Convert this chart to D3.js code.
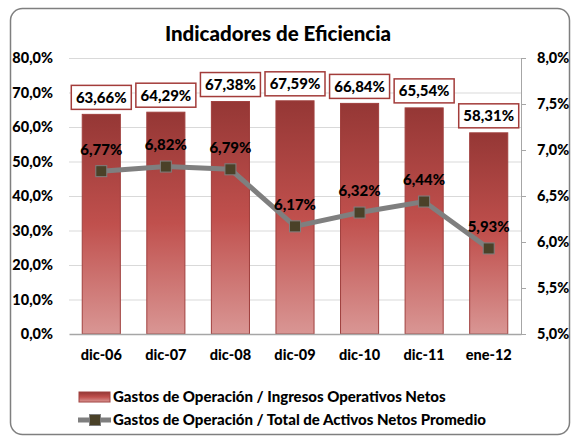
<!DOCTYPE html>
<html>
<head>
<meta charset="utf-8">
<script src="https://cdn.jsdelivr.net/npm/d3@7"></script>
<style>
  body { margin: 0; background: #fff; }
  svg text { font-family: Lato, "Open Sans", sans-serif; font-weight: 900; fill: #000; }
</style>
</head>
<body>
<svg id="chart" width="572" height="439"></svg>
<script>
var categories = ["dic-06", "dic-07", "dic-08", "dic-09", "dic-10", "dic-11", "ene-12"];
var gastosIngresos = [63.66, 64.29, 67.38, 67.59, 66.84, 65.54, 58.31];
var gastosActivos = [6.77, 6.82, 6.79, 6.17, 6.32, 6.44, 5.93];
var leftTicks = [0, 10, 20, 30, 40, 50, 60, 70, 80];
var rightTicks = [5.0, 5.5, 6.0, 6.5, 7.0, 7.5, 8.0];
var seriesNames = ["Gastos de Operación / Ingresos Operativos Netos",
                   "Gastos de Operación / Total de Activos Netos Promedio"];

var svg = d3.select("#chart");
var plot = {left: 69, right: 521, top: 58, bottom: 334};

function fmt(v, d) {
  return v.toFixed(d).replace(".", ",") + "%";
}

// gradient for the bars
var defs = svg.append("defs");
var grad = defs.append("linearGradient")
  .attr("id", "barGrad").attr("x1", 0).attr("y1", 0).attr("x2", 0).attr("y2", 1);
grad.append("stop").attr("offset", "0%").attr("stop-color", "#953735");
grad.append("stop").attr("offset", "50%").attr("stop-color", "#c0504d");
grad.append("stop").attr("offset", "100%").attr("stop-color", "#d99694");

// outer frame
svg.append("rect")
  .attr("x", 10.5).attr("y", 8.5).attr("width", 559).attr("height", 426)
  .attr("rx", 12).attr("fill", "#fff").attr("stroke", "#7f7f7f").attr("stroke-width", 1.5);

svg.append("text")
  .attr("x", 278).attr("y", 41).attr("text-anchor", "middle")
  .style("font-size", "20.5px").text("Indicadores de Eficiencia");

var x = d3.scaleBand().domain(categories).range([plot.left, plot.right]).paddingInner(0.41).paddingOuter(0.205);
var yL = d3.scaleLinear().domain([0, 80]).range([plot.bottom, plot.top]);
var yR = d3.scaleLinear().domain([5, 8]).range([plot.bottom, plot.top]);

// gridlines
svg.append("g").selectAll("line").data(leftTicks.slice(1)).join("line")
  .attr("x1", plot.left).attr("x2", plot.right)
  .attr("y1", d => yL(d) + 0.5).attr("y2", d => yL(d) + 0.5)
  .attr("stroke", "#d9d9d9").attr("stroke-width", 1);

// left axis labels
var axL = svg.append("g").attr("transform", "translate(" + plot.left + ",0)")
  .call(d3.axisLeft(yL).tickValues(leftTicks).tickSize(0).tickPadding(16).tickFormat(d => fmt(d, 1)));
axL.select(".domain").remove();
axL.selectAll("text").style("font-size", "14.5px").style("font-family", null);

// right axis
var axR = svg.append("g").attr("transform", "translate(" + plot.right + ",0)")
  .call(d3.axisRight(yR).tickValues(rightTicks).tickSize(5).tickPadding(11).tickFormat(d => fmt(d, 1)));
axR.select(".domain").attr("stroke", "#a6a6a6");
axR.selectAll(".tick line").attr("stroke", "#a6a6a6");
axR.selectAll("text").style("font-size", "14.5px").style("font-family", null);

// bars
svg.append("g").selectAll("rect").data(gastosIngresos).join("rect")
  .attr("x", (d, i) => x(categories[i]))
  .attr("y", d => yL(d))
  .attr("width", x.bandwidth())
  .attr("height", d => yL(0) - yL(d))
  .attr("fill", "url(#barGrad)")
  .attr("stroke", "#a0403e").attr("stroke-width", 1);

// bottom axis
var axB = svg.append("g").attr("transform", "translate(0," + plot.bottom + ")")
  .call(d3.axisBottom(x).tickSize(0).tickPadding(16));
axB.select(".domain").attr("stroke", "#a6a6a6").attr("stroke-width", 1.5);
axB.selectAll("text").style("font-size", "14.5px").style("font-family", null);

// bar labels in boxes
var barLbl = svg.append("g").selectAll("g").data(gastosIngresos).join("g")
  .attr("transform", (d, i) => "translate(" + (x(categories[i]) + x.bandwidth() / 2) + "," + (yL(d) - 17) + ")");
barLbl.append("rect")
  .attr("x", -30).attr("y", -12).attr("width", 60).attr("height", 24)
  .attr("fill", "#fff").attr("stroke", "#a33c3a").attr("stroke-width", 1.5);
barLbl.append("text")
  .attr("text-anchor", "middle").attr("dy", "0.36em")
  .style("font-size", "15px").text(d => fmt(d, 2));

// line series
var cx = (d, i) => x(categories[i]) + x.bandwidth() / 2;
var line = d3.line().x(cx).y(d => yR(d));
svg.append("path").datum(gastosActivos)
  .attr("d", line).attr("fill", "none")
  .attr("stroke", "#7f7f7f").attr("stroke-width", 5);
svg.append("g").selectAll("rect").data(gastosActivos).join("rect")
  .attr("x", (d, i) => cx(d, i) - 5.5).attr("y", d => yR(d) - 5.5)
  .attr("width", 11).attr("height", 11)
  .attr("fill", "#4a4128").attr("stroke", "#7f7f7f").attr("stroke-width", 1);
svg.append("g").selectAll("text").data(gastosActivos).join("text")
  .attr("x", cx).attr("y", d => yR(d) - 22)
  .attr("text-anchor", "middle").attr("dy", "0.36em")
  .style("font-size", "15px").text(d => fmt(d, 2));

// legend
var leg = svg.append("g");
leg.append("rect").attr("x", 79).attr("y", 392).attr("width", 31).attr("height", 10)
  .attr("fill", "url(#barGrad)").attr("stroke", "#a0403e");
leg.append("text").attr("x", 113).attr("y", 397).attr("dy", "0.36em")
  .style("font-size", "15px").text(seriesNames[0]);
leg.append("line").attr("x1", 78).attr("x2", 111).attr("y1", 420).attr("y2", 420)
  .attr("stroke", "#7f7f7f").attr("stroke-width", 5);
leg.append("rect").attr("x", 89.5).attr("y", 414.5).attr("width", 11).attr("height", 11)
  .attr("fill", "#4a4128").attr("stroke", "#7f7f7f");
leg.append("text").attr("x", 113).attr("y", 420).attr("dy", "0.36em")
  .style("font-size", "15px").text(seriesNames[1]);
</script>
</body>
</html>
